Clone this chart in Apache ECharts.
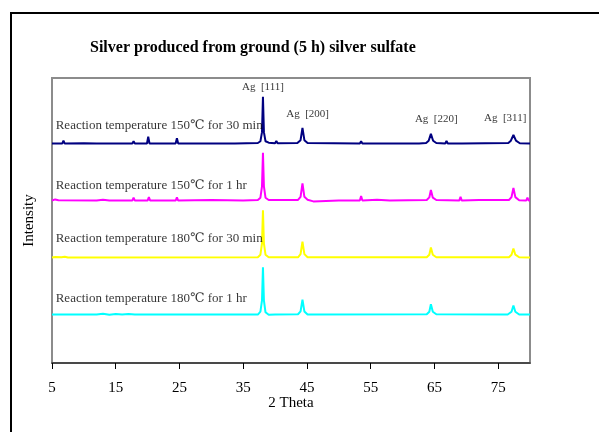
<!DOCTYPE html>
<html>
<head>
<meta charset="utf-8">
<script src="https://cdn.jsdelivr.net/npm/echarts@6/dist/echarts.min.js"></script>
<style>
	html, body { margin: 0; padding: 0; background: #fff; }
	#chart1 { width: 599px; height: 432px; }
</style>
</head>
<body>
<div id="chart1"></div>
<script>
//2θ 与强度 (相对于各自基线)
var names = [
	"Reaction temperature 150℃ for 30 min",
	"Reaction temperature 150℃ for 1 hr",
	"Reaction temperature 180℃ for 30 min",
	"Reaction temperature 180℃ for 1 hr"
];

//各曲线的基线偏移
var offsets = [77, 57, 37, 17];

var colors = ["#000080", "#ff00ff", "#ffff00", "#00ffff"];

var navy150_30 = [
	[5, 0], [6.6, 0], [6.8, 1.0], [7, 0], [10, 0.1], [12, 0], [17.6, 0], [17.8, 0.8], [18, 0],
	[19.9, 0], [20.1, 2.4], [20.3, 0], [24.4, 0], [24.6, 1.9], [24.8, 0], [29, 0], [29.2, 0.5], [29.4, 0],
	[33.3, 0], [33.5, 0.6], [33.7, 0], [37.3, 0.2], [37.7, 0.8], [37.95, 4], [38.1, 16.4], [38.25, 4],
	[38.5, 0.8], [39, 0.3], [40.0, 0.1], [40.2, 0.9], [40.4, 0.1], [43.5, 0.2], [44.0, 1.2], [44.3, 5.5],
	[44.6, 1.2], [45.1, 0.2], [53.3, 0], [53.5, 0.8], [53.7, 0], [60, 0], [60.2, 0.4], [60.4, 0],
	[62.2, 0], [62.4, 0.4], [62.6, 0], [63.7, 0.2], [64.1, 1.0], [64.45, 3.4], [64.8, 1.0], [65.3, 0.2],
	[66.7, 0], [66.9, 0.9], [67.1, 0], [68.9, 0], [69.1, 0.5], [69.3, 0], [76.6, 0.2], [77.0, 1.0],
	[77.4, 3.0], [77.8, 1.0], [78.4, 0.1], [80, 0]
];

var pink150_1 = [
	[5, 0], [5.5, 0.4], [6, 0.1], [12, 0], [13, 0.3], [14, 0], [17.6, 0], [17.8, 1.0], [18, 0],
	[20, 0], [20.2, 1.2], [20.4, 0], [24.4, 0], [24.6, 1.1], [24.8, 0], [30, 0.2], [35, 0],
	[37.3, 0.2], [37.7, 1.0], [37.95, 5], [38.1, 16.8], [38.25, 5], [38.5, 1.0], [39, 0.2],
	[43.6, 0.2], [44.0, 1.3], [44.3, 6.0], [44.6, 1.3], [45.1, 0.3], [46, -0.3], [50, 0],
	[53.3, 0], [53.5, 1.6], [53.7, 0], [56, 0.3], [58, 0], [63.8, 0.2], [64.2, 1.1], [64.45, 3.7],
	[64.75, 1.0], [65.3, 0.2], [68.9, 0], [69.1, 1.3], [69.3, 0], [72, 0.2], [76.7, 0.2], [77.1, 1.2],
	[77.4, 4.4], [77.7, 1.2], [78.3, 0.1], [79.4, 0], [79.6, 1.0], [79.8, 0], [80, 0]
];

var yellow180_30 = [
	[5, 0], [5.5, 0.2], [6.5, 0.1], [7, 0.3], [7.5, 0], [37.3, 0.1], [37.7, 1.0], [37.95, 5],
	[38.1, 16.6], [38.25, 5], [38.5, 1.0], [39, 0.1], [43.6, 0.1], [44.0, 1.2], [44.3, 5.6],
	[44.6, 1.2], [45.1, 0.1], [63.8, 0.1], [64.2, 1.0], [64.45, 3.5], [64.75, 1.0], [65.3, 0.1],
	[76.7, 0.1], [77.1, 1.0], [77.4, 3.2], [77.7, 1.0], [78.3, 0.1], [80, 0]
];

var cyan180_1 = [
	[5, 0], [12, 0], [13, 0.3], [14, -0.1], [15, 0.2], [16, 0], [17, 0.2], [18, 0], [24, 0],
	[37.3, 0], [37.7, 1.0], [37.95, 5], [38.1, 16.6], [38.25, 5], [38.5, 0.8], [39, -0.1], [40, 0],
	[43.6, 0.1], [44.0, 1.1], [44.3, 5.2], [44.6, 1.1], [45.1, 0], [63.8, 0.1], [64.2, 1.0],
	[64.45, 3.6], [64.75, 1.0], [65.3, 0.1], [76.5, 0], [76.8, -0.2], [77.1, 1.0], [77.4, 3.2],
	[77.7, 1.0], [78.3, 0], [80, 0]
];

var patterns = [navy150_30, pink150_1, yellow180_30, cyan180_1];

//横轴刻度
var xTicks = [5, 15, 25, 35, 45, 55, 65, 75];

//峰标注
var peakNames = ["Ag  [111]", "Ag  [200]", "Ag  [220]", "Ag  [311]"];
var peakPos = [[38.1, 96.9], [45.1, 87.3], [65.3, 85.6], [76.1, 85.8]];

//曲线名称位置
var namePos = [[5.5, 83.3], [5.5, 62.1], [5.5, 43.8], [5.5, 22.5]];

/**********************************************/
var serif = "'Liberation Serif', 'DejaVu Serif', serif";
var chart = echarts.init(document.getElementById("chart1"));

var series = [];

//曲线 (加上基线偏移)
for (var i = 0; i < patterns.length; i++) {
	var d = [];
	for (var j = 0; j < patterns[i].length; j++) {
		d.push([patterns[i][j][0], patterns[i][j][1] + offsets[i]]);
	}
	series.push({
		type: "line",
		name: names[i],
		data: d,
		showSymbol: false,
		symbol: "none",
		lineStyle: { color: colors[i], width: 2 },
		z: 2
	});
}

//文字标注
var labelData = [];
for (var i = 0; i < names.length; i++) {
	labelData.push({ value: namePos[i], name: names[i], label: { position: "right", distance: 0 } });
}
for (var i = 0; i < peakNames.length; i++) {
	labelData.push({ value: peakPos[i], name: peakNames[i], label: { position: "inside", fontSize: 11 } });
}
series.push({
	type: "scatter",
	data: labelData,
	symbolSize: 1,
	itemStyle: { color: "transparent" },
	label: {
		show: true,
		formatter: "{b}",
		color: "#000",
		fontFamily: serif,
		fontSize: 13
	},
	z: 5
});

var option = {
	animation: false,
	title: {
		text: "Silver produced from ground (5 h) silver sulfate",
		left: 90,
		top: 40,
		padding: 0,
		textStyle: { fontFamily: serif, fontSize: 16, fontWeight: "bold", color: "#000" }
	},
	grid: {
		left: 52,
		top: 78,
		right: 69,
		bottom: 69,
		show: true,
		borderColor: "#8c8c8c",
		borderWidth: 2
	},
	xAxis: {
		type: "value",
		min: 5,
		max: 80,
		name: "2 Theta",
		nameLocation: "middle",
		nameGap: 33,
		nameMoveOverlap: false,
		nameTextStyle: { fontFamily: serif, fontSize: 15, color: "#000" },
		axisLine: { show: true, lineStyle: { color: "#333", width: 1.5 } },
		axisTick: { show: true, length: 6, customValues: xTicks, lineStyle: { color: "#000" } },
		axisLabel: { customValues: xTicks, margin: 18, fontFamily: serif, fontSize: 15, color: "#000" },
		splitLine: { show: false }
	},
	yAxis: {
		type: "value",
		min: 0,
		max: 100,
		name: "Intensity",
		nameLocation: "middle",
		nameRotate: 90,
		nameGap: 15,
		nameTextStyle: { fontFamily: serif, fontSize: 15, color: "#000" },
		axisLine: { show: false },
		axisTick: { show: false },
		axisLabel: { show: false },
		splitLine: { show: false }
	},
	graphic: [{
		//外框
		type: "rect",
		shape: { x: 11, y: 13, width: 1000, height: 1000 },
		style: { fill: "none", stroke: "#000", lineWidth: 2 },
		silent: true
	}],
	series: series
};

chart.setOption(option);
</script>
</body>
</html>
